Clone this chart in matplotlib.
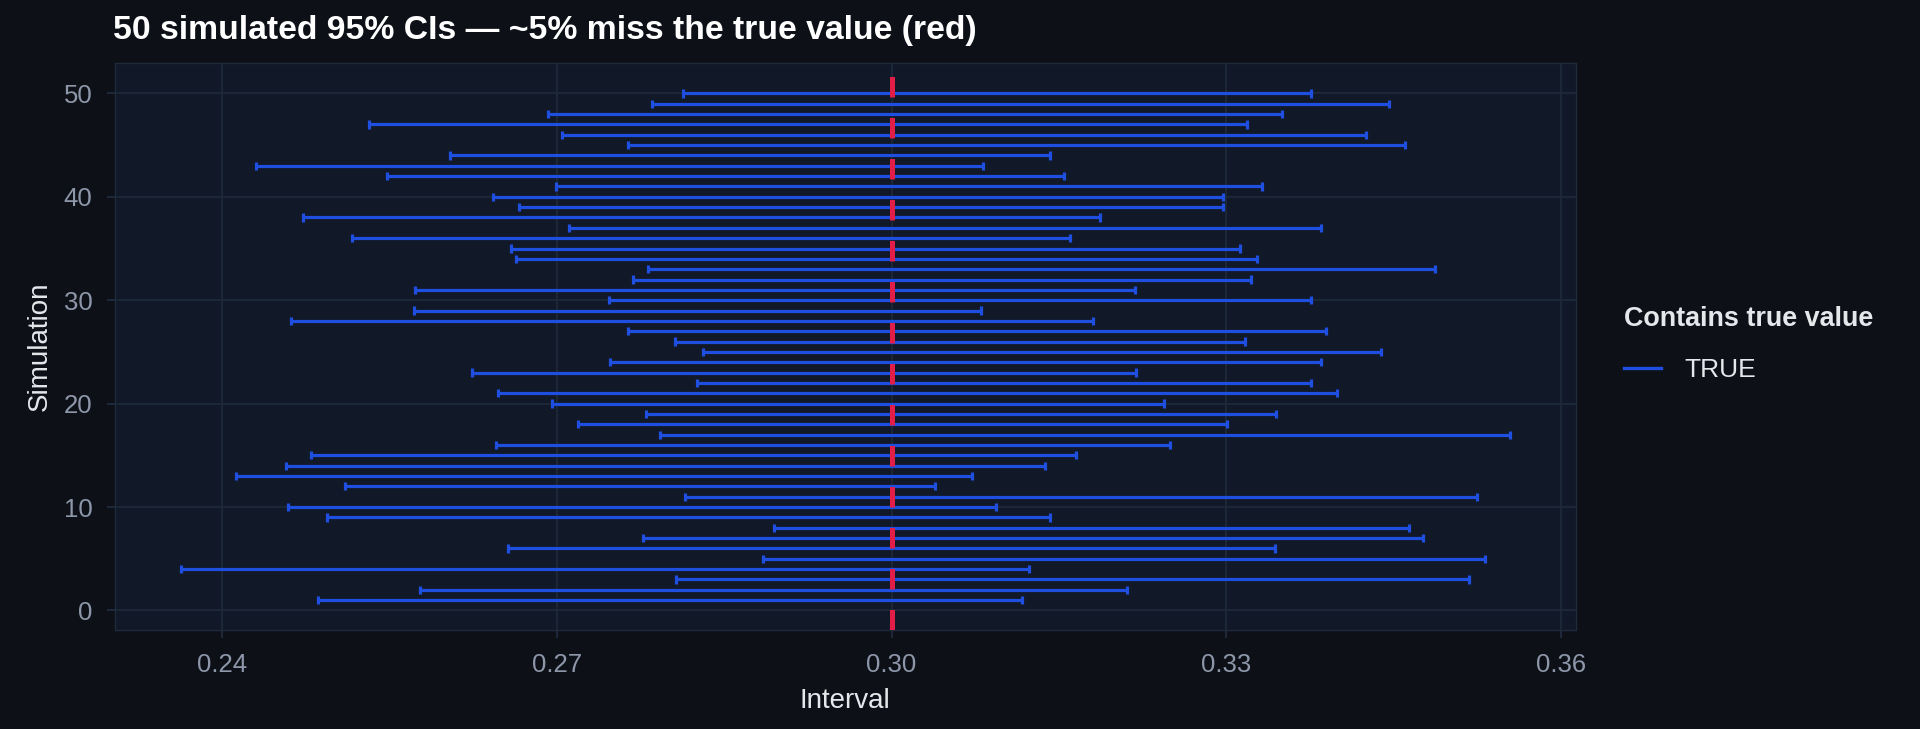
import matplotlib
matplotlib.use("Agg")
import matplotlib.pyplot as plt
from matplotlib.lines import Line2D
import numpy as np

# values (simulation 1..50)
sims = list(range(1, 51))
lower = [0.2486, 0.2577, 0.2807, 0.2363, 0.2885, 0.2656, 0.2777, 0.2895, 0.2494, 0.2459,
         0.2815, 0.2510, 0.2412, 0.2457, 0.2480, 0.2645, 0.2792, 0.2719, 0.2780, 0.2696,
         0.2647, 0.2826, 0.2624, 0.2748, 0.2831, 0.2806, 0.2764, 0.2462, 0.2572, 0.2747,
         0.2573, 0.2768, 0.2782, 0.2663, 0.2659, 0.2516, 0.2711, 0.2472, 0.2666, 0.2643,
         0.2699, 0.2548, 0.2430, 0.2604, 0.2764, 0.2705, 0.2532, 0.2692, 0.2785, 0.2813]
upper = [0.3117, 0.3211, 0.3518, 0.3123, 0.3532, 0.3344, 0.3476, 0.3464, 0.3142, 0.3094,
         0.3525, 0.3039, 0.3072, 0.3138, 0.3165, 0.3250, 0.3554, 0.3301, 0.3345, 0.3244,
         0.3399, 0.3376, 0.3219, 0.3385, 0.3439, 0.3317, 0.3389, 0.3181, 0.3080, 0.3376,
         0.3218, 0.3322, 0.3487, 0.3328, 0.3312, 0.3160, 0.3385, 0.3187, 0.3297, 0.3297,
         0.3332, 0.3155, 0.3082, 0.3142, 0.3460, 0.3425, 0.3319, 0.3350, 0.3446, 0.3376]
true_value = 0.30
x_ticks = [0.24, 0.27, 0.30, 0.33, 0.36]
y_ticks = [0, 10, 20, 30, 40, 50]
legend_title = "Contains true value"
legend_labels = ["TRUE"]
title = "50 simulated 95% CIs \u2014 ~5% miss the true value (red)"

BG = "#0d1117"
PANEL = "#111827"
GRID = "#1e293b"
BLUE = "#1f4fe0"
RED = "#e11d48"
TICK_TXT = "#8d97a9"
AX_TXT = "#e5e7eb"

plt.rcParams["font.family"] = ["Liberation Sans", "DejaVu Sans"]

W, H = 1920, 729
fig = plt.figure(figsize=(W / 100, H / 100), dpi=100, facecolor=BG)
ax = fig.add_axes([114.5 / W, (H - 630) / H, (1576 - 114.5) / W, (630 - 63.5) / H])
ax.set_facecolor(PANEL)

cap = 0.4
ys = np.array(sims)
ax.hlines(ys, lower, upper, color=BLUE, lw=2.3, zorder=2)
ax.vlines(lower, ys - cap, ys + cap, color=BLUE, lw=2.3, zorder=2)
ax.vlines(upper, ys - cap, ys + cap, color=BLUE, lw=2.3, zorder=2)
ax.axvline(true_value, color=RED, lw=3.6, linestyle=(0, (4.1, 4.1)), zorder=3)

# ggplot-like 5% expansion
lo, hi = min(lower), max(upper)
pad = (hi - lo) * 0.05
ax.set_xlim(lo - pad, hi + pad)
ylo, yhi = min(sims) - cap, max(sims) + cap
ypad = (yhi - ylo) * 0.05
ax.set_ylim(ylo - ypad, yhi + ypad)

ax.set_xticks(x_ticks)
ax.set_xticklabels([f"{v:.2f}" for v in x_ticks])
ax.set_yticks(y_ticks)
ax.grid(True, color=GRID, lw=1.2, zorder=0)
ax.set_axisbelow(True)
for s in ax.spines.values():
    s.set_color(GRID)
    s.set_linewidth(1.0)
ax.tick_params(colors=GRID, length=5.8, width=1.4, labelsize=18.5, labelcolor=TICK_TXT)
ax.tick_params(axis="x", pad=10.5)
ax.tick_params(axis="y", pad=10)

ax.set_xlabel("Interval", fontsize=20, color=AX_TXT, labelpad=8)
ax.set_ylabel("Simulation", fontsize=20, color=AX_TXT, labelpad=8)

fig.text(113 / W, (H - 39.3) / H, title, fontsize=24.3, fontweight="bold",
         color="white", ha="left", va="baseline")

handles = [Line2D([], [], color=BLUE, lw=2.4)]
leg = fig.legend(handles, legend_labels, title=legend_title, loc="upper left",
                 bbox_to_anchor=(1624 / W, (H - 306) / H), frameon=False,
                 fontsize=19, title_fontsize=19.4, alignment="left",
                 handlelength=1.42, handletextpad=0.85, borderpad=0, borderaxespad=0,
                 labelspacing=1.0)
leg.get_title().set_fontweight("bold")
leg.get_title().set_color(AX_TXT)
for t in leg.get_texts():
    t.set_color(AX_TXT)

fig.savefig("out.png", dpi=100, facecolor=BG)
